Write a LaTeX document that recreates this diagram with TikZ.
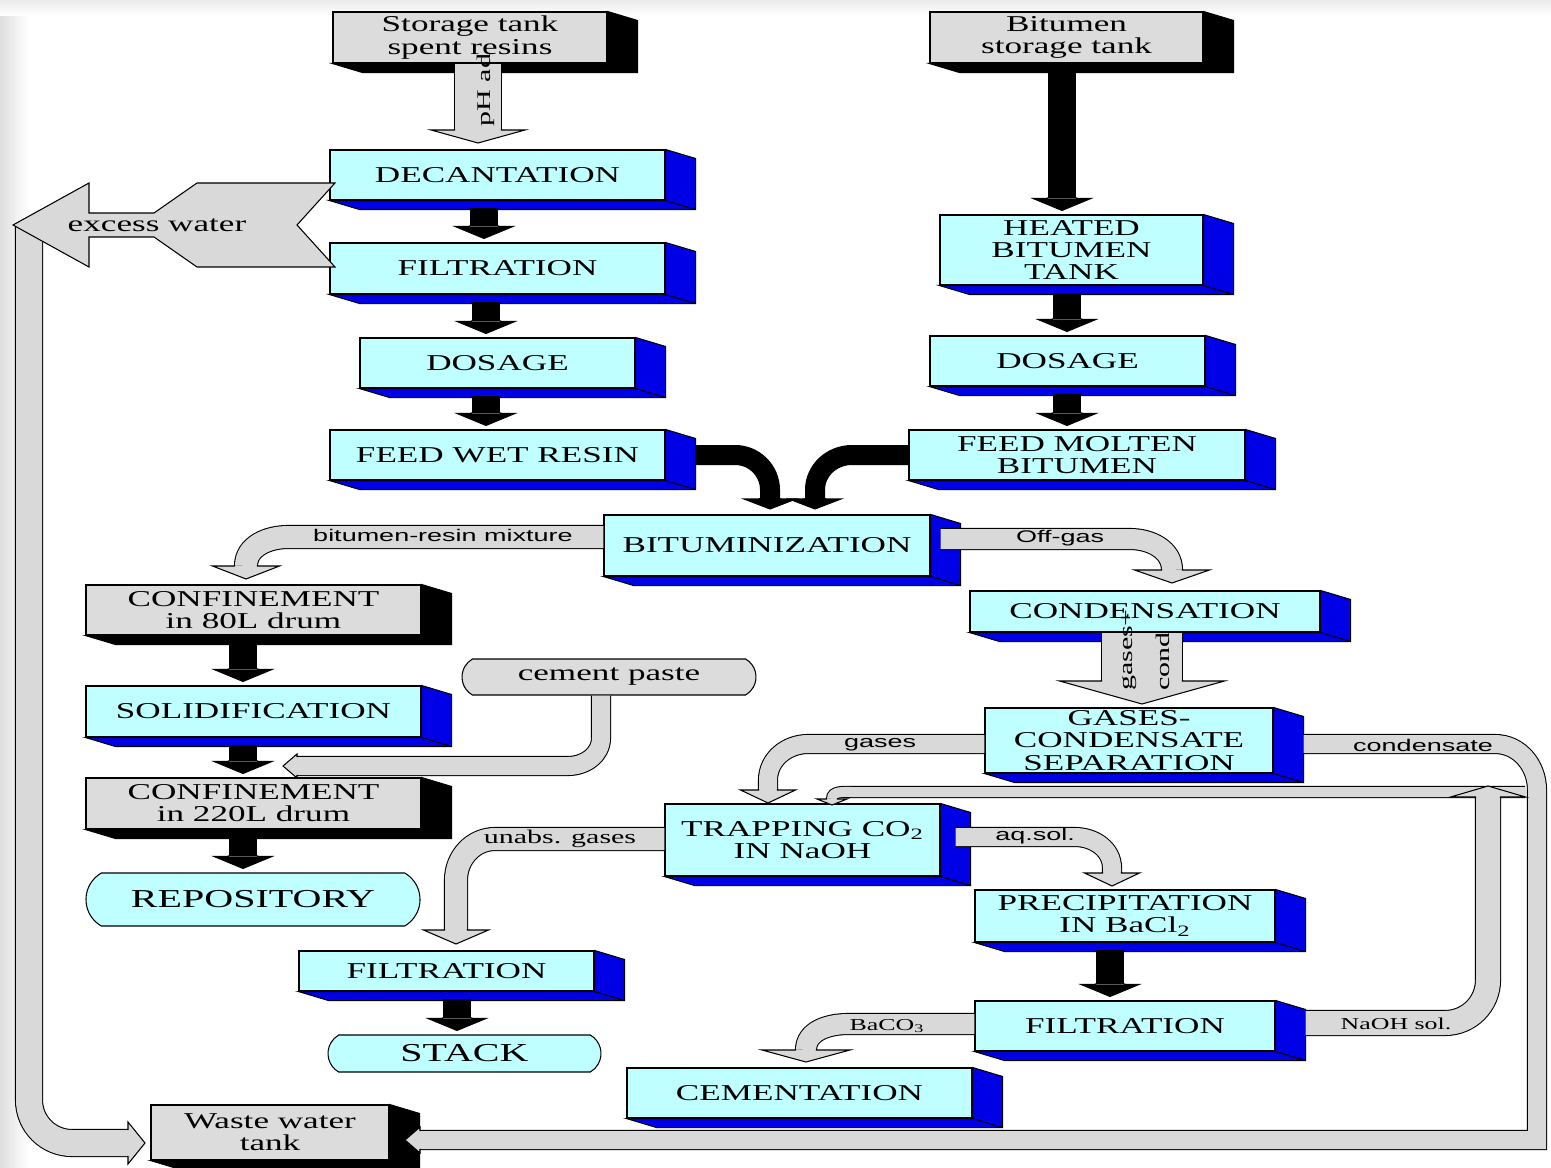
\documentclass[tikz,border=0pt]{standalone}
\usepackage{fontspec}
\setmainfont{Liberation Serif}
\newfontfamily\boxfont[FakeStretch=1.55]{Liberation Serif}
\newfontfamily\lblfont[FakeStretch=1.6]{Liberation Sans}
\usetikzlibrary{calc,shapes.misc}

\definecolor{boxcyan}{RGB}{192,255,255}
\definecolor{sideblue}{RGB}{0,0,230}
\definecolor{boxgray}{RGB}{220,220,220}
\definecolor{flowgray}{RGB}{217,217,217}

\tikzset{
  proc/.style={draw, fill=boxcyan, align=center, inner sep=0pt,
    font=\boxfont\fontsize{12.9}{12.6}\selectfont},
  tank/.style={proc, fill=boxgray},
  term/.style={proc, rounded rectangle, rounded rectangle arc length=120},
  sz/.style 2 args={minimum width=#1, minimum height=#2},
  band/.style={double=flowgray, double distance=#1},
  lbl/.style={inner sep=0pt, font=\lblfont\fontsize{9.6}{10}\selectfont},
  slbl/.style={inner sep=0pt, font=\boxfont\fontsize{9.5}{10}\selectfont},
}

% side and bottom faces of a box
\newcommand\extrude[2]{%
  \draw[fill=#2] (#1.north east) -- ++(30,9) -- ($(#1.south east)+(30,9)$)
    -- ($(#1.south west)+(30,9)$) -- (#1.south west) -- (#1.south east) -- cycle;
  \draw (#1.south east) -- ++(30,9);}

% arrow head: fill, tip, direction, shaft width, head width, head length
\newcommand\ahead[6]{%
  \begin{scope}[shift={#2}, rotate=#3]
    \fill[#1] (0,0) -- (-#6,#5/2) -- (-#6,-#5/2) -- cycle;
    \draw[line join=miter] (-#6-1,#4/2) -- (-#6,#4/2) -- (-#6,#5/2) -- (0,0)
      -- (-#6,-#5/2) -- (-#6,-#4/2) -- (-#6-1,-#4/2);
  \end{scope}}

% black arrow straight down from node to node
\newcommand\blkdown[3]{%
  \draw[line width=5.6mm] ($(#1.south -| #3,0)+(0,7)$) -- ($(#2.north -| #3,0)+(0,-16)$);
  \ahead{black}{($(#2.north -| #3,0)+(0,-4)$)}{-90}{29}{58}{12}}

\begin{document}
\begin{tikzpicture}[x=0.2mm, y=-0.2mm, semithick]
\useasboundingbox (0,0) rectangle (1551,1168);
\fill[white] (0,0) rectangle (1551,1168);
\shade[left color=black!13, right color=white] (0,0) rectangle (28,1168);
\shade[top color=black!8, bottom color=white] (0,0) rectangle (1551,16);

% resin line
\node[tank, sz={54.8mm}{10.2mm}] (stspent) at (470,37.5) {Storage tank\\spent resins};
\node[proc, sz={67mm}{10mm}] (dec) at (497.5,175) {DECANTATION};
\node[proc, sz={67mm}{10.2mm}] (filt1) at (497.5,268.5) {FILTRATION};
\node[proc, sz={55mm}{10mm}] (dos1) at (497.5,363) {DOSAGE};
\node[proc, sz={67mm}{10mm}] (feedwet) at (497.5,455) {FEED WET RESIN};

% bitumen line
\node[tank, sz={54.6mm}{10.2mm}] (bitst) at (1066.5,37.5) {Bitumen\\storage tank};
\node[proc, sz={52.6mm}{14mm}] (heated) at (1071.5,250) {HEATED\\BITUMEN\\TANK};
\node[proc, sz={55mm}{10mm}] (dos2) at (1067.5,361) {DOSAGE};
\node[proc, sz={67.2mm}{10mm}] (feedmol) at (1077,455) {FEED MOLTEN\\BITUMEN};

\node[proc, sz={65.2mm}{12.2mm}] (bitum) at (767,545.5) {BITUMINIZATION};

% product
\node[tank, sz={67mm}{10mm}] (conf80) at (253.5,610) {CONFINEMENT\\in 80L drum};
\node[proc, sz={67mm}{10.2mm}] (solid) at (253.5,711.5) {SOLIDIFICATION};
\node[term, fill=boxgray, sz={58.8mm}{7.2mm}] (cpaste) at (609,677) {cement paste};
\node[tank, sz={67mm}{10.2mm}] (conf220) at (253.5,803.5) {CONFINEMENT\\in 220L drum};
\node[term, sz={66.8mm}{10.6mm}, font=\boxfont\fontsize{14.7}{15}\selectfont] (repo) at (253,899.5) {REPOSITORY};

% off-gas treatment
\node[proc, sz={70mm}{8.2mm}] (cond) at (1145,611.5) {CONDENSATION};
\node[proc, sz={57.6mm}{13mm}] (gcsep) at (1129,740.5) {GASES-\\CONDENSATE\\SEPARATION};
\node[proc, sz={55mm}{14.4mm}] (trap) at (802.5,840) {TRAPPING CO\textsubscript{2}\\IN NaOH};
\node[proc, sz={60mm}{10.4mm}] (precip) at (1125,916) {PRECIPITATION\\IN BaCl\textsubscript{2}};
\node[proc, sz={59mm}{8mm}] (filt2) at (446.5,971) {FILTRATION};
\node[term, sz={54.6mm}{7.4mm}, font=\boxfont\fontsize{14.7}{15}\selectfont] (stack) at (464.5,1053.5) {STACK};
\node[proc, sz={60mm}{10mm}] (filt3) at (1125,1026) {FILTRATION};
\node[proc, sz={69mm}{10mm}] (cement) at (799.5,1093) {CEMENTATION};
\node[tank, sz={47.6mm}{11mm}] (waste) at (270,1132.5) {Waste water\\tank};

\foreach \n in {dec,filt1,dos1,feedwet,heated,dos2,feedmol,bitum,cond,solid,
                gcsep,trap,precip,filt2,filt3,cement}
  {\extrude{\n}{sideblue}}
\foreach \n in {stspent,bitst,conf80,conf220,waste}
  {\extrude{\n}{black}}

% excess water to waste water tank
\draw[band=5.2mm] (29,226) -- (29,1100) to[out=-90,in=180] (72,1143) -- (128,1143);
\ahead{flowgray}{(145,1143)}{0}{27}{42}{17}
\draw[fill=flowgray] (13,225) -- (89,183) -- (89,213) -- (154,213) -- (197,183)
  -- (335,183) -- (297,225) -- (335,267) -- (197,267) -- (154,237) -- (89,237)
  -- (89,267) -- cycle;
\node[font=\boxfont\fontsize{12.9}{13}\selectfont] (lxsw) at (157,225) {excess water};

% pH adjustment
\draw[band=9.2mm] (stspent.south -| 478,0) -- (478,130);
\ahead{flowgray}{(478,143)}{-90}{47}{94}{13}

% black flows
\blkdown{dec}{filt1}{484}
\blkdown{filt1}{dos1}{486}
\blkdown{dos1}{feedwet}{486}
\blkdown{bitst}{heated}{1062}
\blkdown{heated}{dos2}{1067}
\blkdown{dos2}{feedmol}{1067}
\blkdown{conf80}{solid}{243}
\blkdown{solid}{conf220}{243}
\blkdown{conf220}{repo}{243}
\blkdown{precip}{filt3}{1110}
\blkdown{filt2}{stack}{457}
\draw[line width=4mm] ($(feedwet.east)+(30,0)$) -- (735,455) to[out=0,in=90] (770,490) -- (770,499);
\ahead{black}{(770,509)}{-90}{21}{52}{10}
\draw[line width=4mm] (feedmol.west) -- (852,455) to[out=180,in=90] (815,490) -- (815,499);
\ahead{black}{(815,509)}{-90}{21}{52}{10}

% gray flows
\draw[band=4.4mm] (bitum.west |- 0,537) -- (288,537) to[out=180,in=90] (246,566);
\ahead{flowgray}{(246,579)}{-90}{23}{67}{13}
\draw[band=4mm] ($(bitum.east |- 0,539)+(10,0)$) -- (1130,539) to[out=0,in=90] (1172,570);
\ahead{flowgray}{(1172,583)}{-90}{21}{75}{13}
\draw[band=16mm] (cond.south -| 1142,0) -- (1142,681);
\ahead{flowgray}{(1142,704)}{-90}{81}{165}{23}
\draw[band=3.6mm] (gcsep.west |- 0,744) -- (808,744) to[out=180,in=90] (768,780) -- (768,790);
\ahead{flowgray}{(768,803)}{-90}{19}{55}{13}
\draw[band=3.6mm] ($(gcsep.east |- 0,744)+(30,0)$) -- (1495,744) to[out=0,in=90] (1537,790)
  -- (1537,1140) -- (420,1140);
\ahead{flowgray}{(405,1140)}{180}{19}{26}{15}
\draw[band=2mm] (1525,792) -- (852,792) to[out=180,in=90] (832,799);
\ahead{flowgray}{(832,805)}{-90}{11}{30}{6}
\draw[band=4.8mm] ($(filt3.east |- 0,1023)+(30,0)$) -- (1445,1023) to[out=0,in=-90] (1488,980) -- (1488,797);
\ahead{flowgray}{(1488,786)}{90}{25}{75}{11}
\draw[band=3.6mm] ($(trap.east |- 0,837)+(15,0)$) -- (1075,837) to[out=0,in=90] (1112,868) -- (1112,873);
\ahead{flowgray}{(1112,886)}{-90}{19}{55}{13}
\draw[band=4mm] (filt3.west |- 0,1024) -- (848,1024) to[out=180,in=90] (806,1050);
\ahead{flowgray}{(806,1062)}{-90}{21}{88}{12}
\draw[band=4.4mm] (trap.west |- 0,839) -- (495,839) to[out=180,in=90] (456,880) -- (456,930);
\ahead{flowgray}{(456,944)}{-90}{23}{65}{14}
\draw[band=3.6mm] (cpaste.south -| 601,0) -- (601,738) to[out=-90,in=0] (568,766) -- (297,766);
\ahead{flowgray}{(283,766)}{180}{19}{24}{14}

% flow labels
\node[lbl] (lmix) at (443,535) {bitumen-resin mixture};
\node[lbl] (loff) at (1060,538) {Off-gas};
\node[lbl] (lgas) at (880,745) {gases};
\node[lbl] (lcnd) at (1423,745) {condensate};
\node[lbl] (laq) at (1035,836) {aq.sol.};
\node[slbl, font=\boxfont\fontsize{11}{12}\selectfont] (lunabs) at (560,839) {unabs. gases};
\node[slbl] (lnaoh) at (1396,1024) {NaOH sol.};
\node[slbl] (lbaco) at (887,1026) {BaCO\textsubscript{3}};
\node[slbl, rotate=90, font=\boxfont\fontsize{11}{12}\selectfont] (lph) at (486,90) {pH ad};
\node[slbl, rotate=90, align=left, font=\boxfont\fontsize{11}{21}\selectfont] (lgc) at (1146,650) {gases+\\cond};
\end{tikzpicture}
\end{document}
